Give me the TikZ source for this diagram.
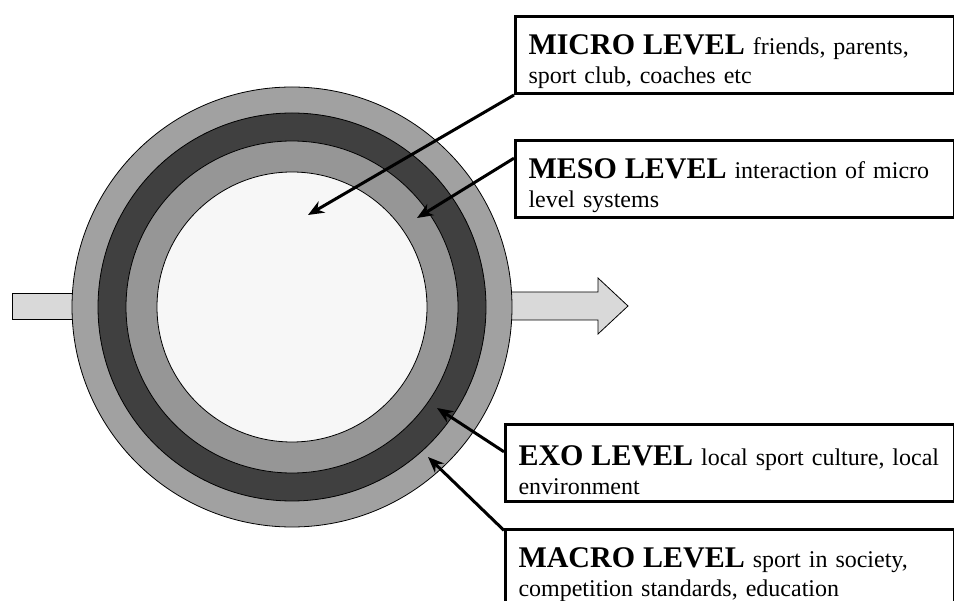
\documentclass[tikz,border=0pt]{standalone}
\usepackage{fontspec}
\setmainfont{Liberation Serif}
\usetikzlibrary{arrows.meta,calc}

\definecolor{ringlight}{gray}{0.63}
\definecolor{ringmid}{gray}{0.59}
\definecolor{ringdark}{gray}{0.25}
\definecolor{corefill}{gray}{0.97}
\definecolor{flowfill}{gray}{0.85}

\newcommand{\lvlname}[1]{{\fontsize{30}{30}\selectfont\bfseries #1}}

\begin{document}
\begin{tikzpicture}[
        x=1pt, y=-1pt,
        ring/.style={draw=black, line width=0.8pt},
        flow/.style={draw=black, fill=flowfill, line width=0.8pt},
        levelbox/.style={draw, line width=3pt, fill=white, anchor=north west, align=left,
            inner xsep=13pt, inner ysep=0pt, minimum height=77pt, font=\fontsize{24}{29}\selectfont},
        pointer/.style={-{Stealth[length=16pt, width=13pt]}, line width=3pt}
    ]
    \useasboundingbox (0,0) rectangle (954,601);
    \clip (0,0) rectangle (954,601);

    % Flow in (left) and out (right)
    \draw[flow] (12,293) rectangle (80,319);
    \draw[flow] (500,292) -- (598,292) -- (598,278) -- (628,306) -- (598,334) -- (598,320) -- (500,320) -- cycle;

    % Nested rings
    \coordinate (centre) at (292,307);
    \filldraw[ring, fill=ringlight] (centre) circle[radius=220pt];
    \filldraw[ring, fill=ringdark] (centre) circle[radius=194pt];
    \filldraw[ring, fill=ringmid] (centre) circle[radius=166pt];
    \filldraw[ring, fill=corefill] (centre) circle[radius=135pt];

    % Level boxes on the right
    \node[levelbox, minimum width=439pt, text width=413pt] (micro-box) at (514,15)
        {\rule{0pt}{34pt}\lvlname{MICRO LEVEL} friends, parents,\\ sport club, coaches etc};
    \node[levelbox, minimum width=439pt, text width=413pt] (meso-box) at (514,139)
        {\rule{0pt}{34pt}\lvlname{MESO LEVEL} interaction of micro\\ level systems};
    \node[levelbox, minimum width=449pt, text width=423pt] (exo-box) at (504,423)
        {\rule{0pt}{34pt}\lvlname{EXO LEVEL} local sport culture, local\\ environment};
    \node[levelbox, minimum width=449pt, text width=423pt] (macro-box) at (504,528)
        {\rule{0pt}{34pt}\lvlname{MACRO LEVEL} sport in society,\\ competition standards, education};

    % Pointers into the rings
    \coordinate (micro-tip) at (308,215);
    \coordinate (meso-tip) at (417,218);
    \coordinate (exo-tip) at (437,408);
    \coordinate (macro-tip) at (428,457);

    \draw[pointer] (micro-box.south west) -- (micro-tip);
    \draw[pointer] ($(meso-box.north west)!0.24!(meso-box.south west)$) -- (meso-tip);
    \draw[pointer] ($(exo-box.north west)!0.36!(exo-box.south west)$) -- (exo-tip);
    \draw[pointer] ($(macro-box.north west)!0.03!(macro-box.south west)$) -- (macro-tip);

\end{tikzpicture}
\end{document}
